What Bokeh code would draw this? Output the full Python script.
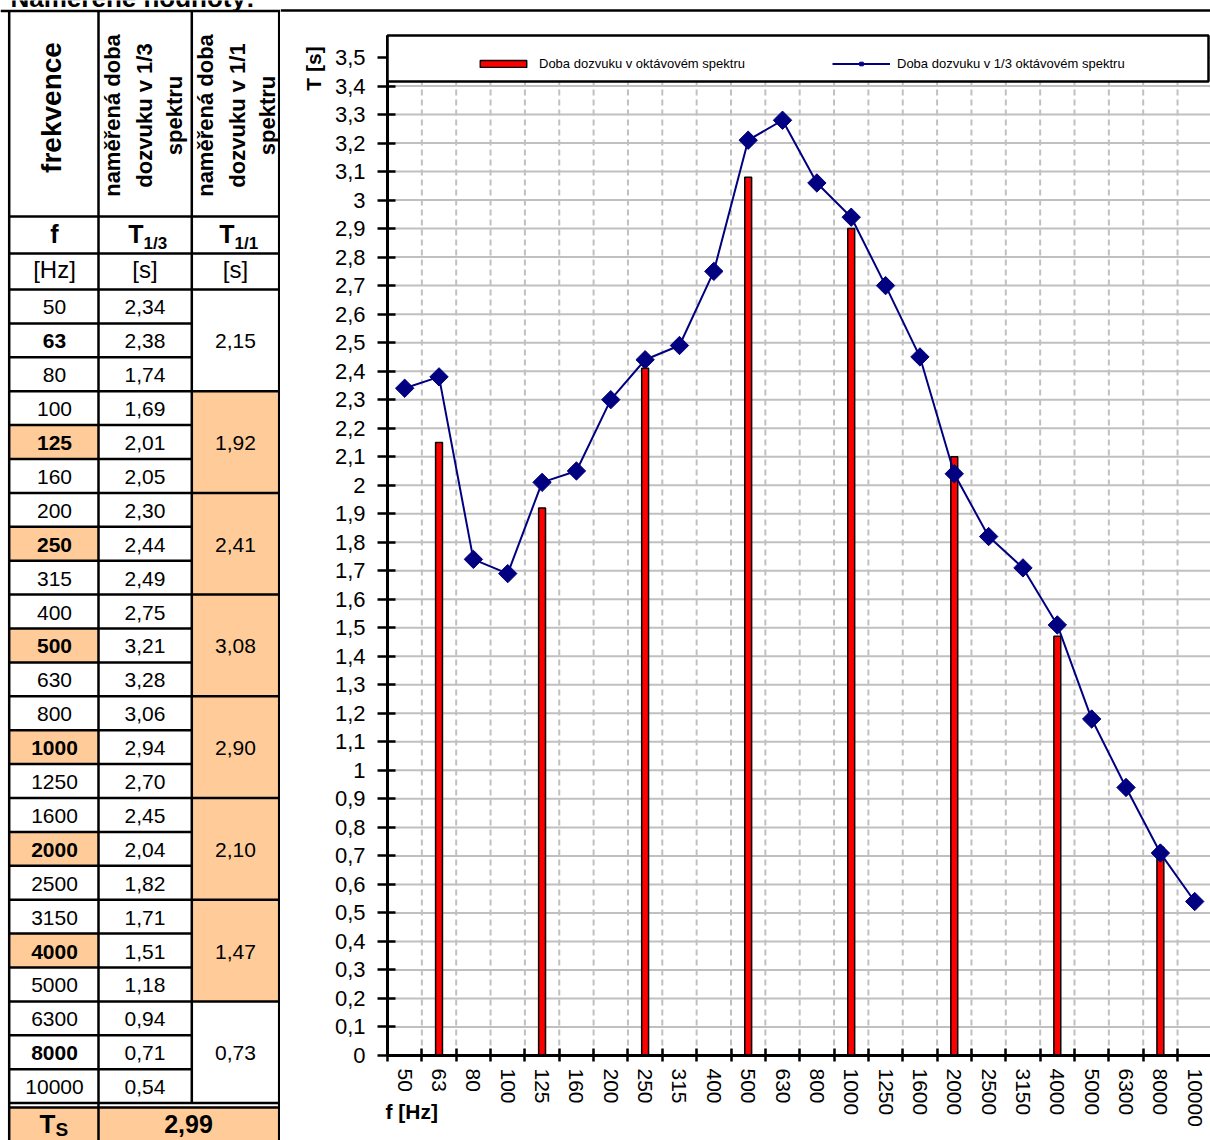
import math
from bokeh.plotting import figure
from bokeh.models import (Range1d, FixedTicker, BoxAnnotation, Legend, LegendItem, Label,
                          CustomJSTickFormatter)
from bokeh.layouts import row
from bokeh.embed import file_html
from bokeh.resources import INLINE
from bokeh.core.properties import value

FONT = "Liberation Sans"

# ---------------- data ----------------
freqs = ["50", "63", "80", "100", "125", "160", "200", "250", "315", "400", "500", "630",
         "800", "1000", "1250", "1600", "2000", "2500", "3150", "4000", "5000", "6300",
         "8000", "10000"]
t_third = [2.34, 2.38, 1.74, 1.69, 2.01, 2.05, 2.30, 2.44, 2.49, 2.75, 3.21, 3.28,
           3.06, 2.94, 2.70, 2.45, 2.04, 1.82, 1.71, 1.51, 1.18, 0.94, 0.71, 0.54]
oct_freqs = ["63", "125", "250", "500", "1000", "2000", "4000", "8000"]
t_oct = [2.15, 1.92, 2.41, 3.08, 2.90, 2.10, 1.47, 0.73]
t_s = 2.99
y_ticks = [0.0, 0.1, 0.2, 0.3, 0.4, 0.5, 0.6, 0.7, 0.8, 0.9, 1.0, 1.1, 1.2, 1.3, 1.4, 1.5,
           1.6, 1.7, 1.8, 1.9, 2.0, 2.1, 2.2, 2.3, 2.4, 2.5, 2.6, 2.7, 2.8, 2.9, 3.0, 3.1,
           3.2, 3.3, 3.4, 3.5]
orange_freqs = ["125", "250", "500", "1000", "2000", "4000"]

def fmt(v):
    return f"{v:.2f}".replace(".", ",")

ORANGE = "#FFCC99"
GRID = "#C0C0C0"

# ---------------- chart ----------------
n = len(freqs)
xs = [i + 0.5 for i in range(n)]
bar_x = [freqs.index(f) + 0.5 for f in oct_freqs]

CW = 34.35          # px per category
KY = 285.14         # px per second
X0, X1 = -107 / CW, 823 / CW
Y0, Y1 = -85 / KY, 1055 / KY
Y_PLOT_TOP = 1020 / KY
Y_LEG_BOT = 974 / KY
Y_TOPLINE = 1045 / KY

p = figure(width=930, height=1140, x_range=Range1d(X0, X1), y_range=Range1d(Y0, Y1),
           output_backend="svg", toolbar_location=None,
           min_border_left=0, min_border_right=0, min_border_top=0, min_border_bottom=0)
p.outline_line_color = None
p.grid.visible = False

# grid lines (custom so they stay inside the plot area)
hy = [v for v in y_ticks if v > 0]
p.segment(x0=[0] * len(hy), x1=[X1] * len(hy), y0=hy, y1=hy, line_color=GRID, line_width=2)
vx = list(range(1, n))
p.segment(x0=vx, x1=vx, y0=[0] * len(vx), y1=[Y_PLOT_TOP] * len(vx), line_color=GRID,
          line_width=2, line_dash="6 4")
# top black rule of the sheet
p.segment(x0=[X0], x1=[X1], y0=[Y_TOPLINE], y1=[Y_TOPLINE], line_color="black", line_width=2.5)

bars = p.vbar(x=bar_x, top=t_oct, width=0.2, fill_color="#FF0000",
              line_color="black", line_width=1.5)
ln = p.line(xs, t_third, line_color="#000080", line_width=2)
sc = p.scatter(xs, t_third, marker="square", angle=math.pi / 4, size=13,
               fill_color="#000080", line_color="#000080")

# y axis
p.yaxis.fixed_location = 0
p.yaxis.bounds = (0, Y_PLOT_TOP)
p.yaxis.ticker = FixedTicker(ticks=y_ticks)
p.yaxis.formatter = CustomJSTickFormatter(
    code="return (Math.round(tick*10)/10).toString().replace('.', ',');")
p.yaxis.axis_line_width = 3
p.yaxis.major_tick_in = 8
p.yaxis.major_tick_out = 10
p.yaxis.major_tick_line_width = 2.5
p.yaxis.minor_tick_line_color = None
p.yaxis.major_label_text_font = FONT
p.yaxis.major_label_text_font_size = "22px"
p.yaxis.major_label_text_color = "black"
p.yaxis.major_label_standoff = 12

# x axis
p.xaxis.fixed_location = 0
p.xaxis.bounds = (0, X1)
p.xaxis.ticker = FixedTicker(ticks=xs, minor_ticks=list(range(0, n)))
p.xaxis.major_label_overrides = {x: f for x, f in zip(xs, freqs)}
p.xaxis.axis_line_width = 3
p.xaxis.major_tick_line_color = None
p.xaxis.major_tick_in = 0
p.xaxis.major_tick_out = 2
p.xaxis.minor_tick_line_color = "black"
p.xaxis.minor_tick_line_width = 2.5
p.xaxis.minor_tick_in = 7
p.xaxis.minor_tick_out = 6
p.xaxis.major_label_orientation = "vertical"
p.xaxis.major_label_text_font = FONT
p.xaxis.major_label_text_font_size = "21px"
p.xaxis.major_label_text_color = "black"
p.xaxis.major_label_standoff = 7

# legend box
box = BoxAnnotation(left=0, right=821 / CW, bottom=Y_LEG_BOT, top=Y_PLOT_TOP,
                    fill_color="white", fill_alpha=1, line_color="black", line_width=2.5,
                    line_alpha=1)
p.add_layout(box)

legend = Legend(items=[LegendItem(label="Doba dozvuku v oktávovém spektru", renderers=[bars]),
                       LegendItem(label="Doba dozvuku v 1/3 oktávovém spektru", renderers=[ln, sc])],
                orientation="horizontal", location=(194, 1069), padding=4, spacing=3,
                glyph_width=58, glyph_height=9, label_width=290, label_height=8,
                label_standoff=7, label_text_font=FONT, label_text_font_size="13px",
                label_text_color="black",
                background_fill_alpha=0, border_line_color=None, margin=0)
p.add_layout(legend)

p.add_layout(Label(x=-74 / CW, y=987 / KY, text="T [s]",
                   angle=math.pi / 2, text_align="center", text_baseline="middle",
                   text_color="black",
                   text_font=FONT, text_font_style="bold", text_font_size="21px"))
p.add_layout(Label(x=-2 / CW, y=-56 / KY, text="f [Hz]",
                   text_align="left", text_baseline="middle", text_color="black",
                   text_font=FONT, text_font_style="bold", text_font_size="21px"))

# ---------------- table ----------------
t = figure(width=280, height=1140, x_range=Range1d(0, 280), y_range=Range1d(1140, 0),
           output_backend="svg", toolbar_location=None, min_border=0,
           x_axis_location=None, y_axis_location=None)
t.grid.visible = False
t.outline_line_color = None

XL, C1, C2, XR = 8.7, 98, 191.3, 278.7
TOP, H1, H2, H3 = 10.5, 216, 253, 289
RH = 33.9
rows_y = [H3 + k * RH for k in range(n + 1)]
BOT = 1140
D1 = rows_y[-1]
D2 = D1 + 4.5

# fills
fl, fr, ft, fb = [], [], [], []
for f in orange_freqs:
    k = freqs.index(f)
    fl.append(XL); fr.append(C1); ft.append(rows_y[k]); fb.append(rows_y[k + 1])
for g in range(1, 7):
    fl.append(C2); fr.append(XR); ft.append(rows_y[3 * g]); fb.append(rows_y[3 * g + 3])
fl.append(XL); fr.append(XR); ft.append(D2); fb.append(BOT)
t.quad(left=fl, right=fr, top=ft, bottom=fb, fill_color=ORANGE, line_color=None)

# lines
x0s, y0s, x1s, y1s = [], [], [], []
def hl(y, a, b):
    x0s.append(a); x1s.append(b); y0s.append(y); y1s.append(y)
def vl(x, a, b):
    x0s.append(x); x1s.append(x); y0s.append(a); y1s.append(b)
hl(TOP, 0, 280); hl(H1, XL, XR); hl(H2, XL, XR); hl(H3, XL, XR)
for k in range(1, n):
    hl(rows_y[k], XL, XR if k % 3 == 0 else C2)
hl(D1, XL, XR); hl(D2, XL, XR)
vl(XL, TOP, BOT); vl(C1, TOP, BOT); vl(C2, TOP, D1); vl(XR, TOP, BOT)
t.segment(x0=x0s, y0=y0s, x1=x1s, y1=y1s, line_color="black", line_width=2.5)

def txt(x, y, s, size, bold=False, angle=0.0, align="center", baseline="middle"):
    t.text(x=[x], y=[y], text=[s], text_font=value(FONT), text_font_size=value(size),
           text_font_style="bold" if bold else "normal", angle=angle,
           text_align=align, text_baseline=baseline, text_color="black")

# sheet title (mostly above the visible area, as in the reference)
txt(10, -3, "Naměřené hodnoty:", "26px", True, align="left")

ang = math.pi / 2
txt(51, 107, "frekvence", "28px", True, ang)
for cx, last in ((C1, "dozvuku v 1/3"), (C2, "dozvuku v 1/1")):
    txt(cx + 14, 115, "naměřená doba", "22px", True, ang)
    txt(cx + 46, 115, last, "22px", True, ang)
    txt(cx + 76, 115, "spektru", "22px", True, ang)

txt(54, 233, "f", "25px", True)
txt(143, 233, "T", "25px", True, align="right")
txt(143, 243, "1/3", "17px", True, align="left")
txt(234, 233, "T", "25px", True, align="right")
txt(234, 243, "1/1", "17px", True, align="left")
txt(54, 269, "[Hz]", "24px")
txt(144.5, 269, "[s]", "24px")
txt(235, 269, "[s]", "24px")

for k, (f, v) in enumerate(zip(freqs, t_third)):
    cy = (rows_y[k] + rows_y[k + 1]) / 2 + 1
    txt(54, cy, f, "21px", f in oct_freqs)
    txt(144.5, cy, fmt(v), "21px")
for g, v in enumerate(t_oct):
    cy = (rows_y[3 * g] + rows_y[3 * g + 3]) / 2 + 1
    txt(235, cy, fmt(v), "21px")

txt(55, 1123, "T", "26px", True, align="right")
txt(55, 1129, "S", "19px", True, align="left")
txt(188, 1123, fmt(t_s), "25px", True)

layout = row(t, p)
open("out.html", "w").write(file_html(layout, INLINE))
